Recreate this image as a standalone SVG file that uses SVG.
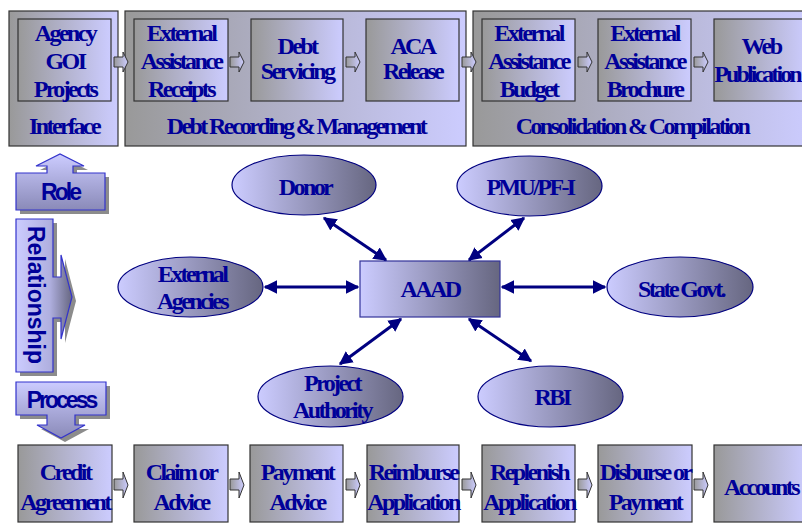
<svg xmlns="http://www.w3.org/2000/svg" width="802" height="525" viewBox="0 0 802 525">
<defs>
  <linearGradient id="gb" x1="0" y1="0" x2="1" y2="0">
    <stop offset="0" stop-color="#999999"/>
    <stop offset="1" stop-color="#ccccff"/>
  </linearGradient>
  <linearGradient id="ge" x1="0" y1="0" x2="1" y2="0">
    <stop offset="0" stop-color="#ccccff"/>
    <stop offset="1" stop-color="#666680"/>
  </linearGradient>
  <linearGradient id="gv" x1="0" y1="0" x2="0" y2="1">
    <stop offset="0" stop-color="#ccccff"/>
    <stop offset="1" stop-color="#8a8ab8"/>
  </linearGradient>
  <linearGradient id="gr" x1="0" y1="0" x2="1" y2="0">
    <stop offset="0" stop-color="#ccccff"/>
    <stop offset="0.6" stop-color="#b0b0e0"/>
    <stop offset="1" stop-color="#666680"/>
  </linearGradient>
  <marker id="ah" viewBox="0 0 10 10" refX="9" refY="5" markerWidth="4.5" markerHeight="5" orient="auto-start-reverse" markerUnits="strokeWidth">
    <path d="M0,0 L10,5 L0,10 Z" fill="#000080"/>
  </marker>
</defs>
<style>
  .box { fill: url(#gb); stroke: #333333; stroke-width: 1.2; }
  .ell { fill: url(#ge); stroke: #000080; stroke-width: 1.2; }
  .sarr { fill: url(#gb); stroke: #333333; stroke-width: 1; }
  .call { fill: url(#gv); stroke: #3333cc; stroke-width: 1.2; }
  .callr { fill: url(#gr); stroke: #3333cc; stroke-width: 1.2; }
  .shadow { fill: #8c8c8c; }
  .t { font-family: "Liberation Serif", "Times New Roman", serif; font-weight: bold; font-size: 24px; fill: #000099; text-anchor: middle; letter-spacing: -2.6px; }
  .s { font-family: "Liberation Sans", Arial, sans-serif; font-weight: bold; font-size: 23px; fill: #000099; text-anchor: middle; letter-spacing: -3px; }
  .con { stroke: #000080; stroke-width: 3; fill: none; marker-start: url(#ah); marker-end: url(#ah); }
</style>

<!-- Top row: group frames -->
<g id="interface">
  <rect class="box" x="9" y="11" width="109" height="135"/>
  <text class="t" x="64" y="134">Interface</text>
</g>
<g id="debt-recording">
  <rect class="box" x="125" y="11" width="341" height="135"/>
  <text class="t" x="296" y="134">Debt Recording &amp; Management</text>
</g>
<g id="consolidation">
  <rect class="box" x="473" y="11" width="340" height="135"/>
  <text class="t" x="632" y="134">Consolidation &amp; Compilation</text>
</g>

<g id="agency-goi-projects">
  <rect class="box" x="18" y="19" width="93" height="82"/>
  <text class="t" x="65" y="41">Agency</text>
  <text class="t" x="65" y="69">GOI</text>
  <text class="t" x="65" y="97">Projects</text>
</g>
<g id="ea-receipts">
  <rect class="box" x="134" y="19" width="94" height="82"/>
  <text class="t" x="181" y="41">External</text>
  <text class="t" x="181" y="69">Assistance</text>
  <text class="t" x="181" y="97">Receipts</text>
</g>
<g id="debt-servicing">
  <rect class="box" x="251" y="19" width="92" height="82"/>
  <text class="t" x="297" y="54">Debt</text>
  <text class="t" x="297" y="79">Servicing</text>
</g>
<g id="aca-release">
  <rect class="box" x="366" y="19" width="93" height="82"/>
  <text class="t" x="412.5" y="54">ACA</text>
  <text class="t" x="412.5" y="79">Release</text>
</g>
<g id="ea-budget">
  <rect class="box" x="482" y="19" width="93" height="82"/>
  <text class="t" x="528.5" y="41">External</text>
  <text class="t" x="528.5" y="69">Assistance</text>
  <text class="t" x="528.5" y="97">Budget</text>
</g>
<g id="ea-brochure">
  <rect class="box" x="598" y="19" width="93" height="82"/>
  <text class="t" x="644.5" y="41">External</text>
  <text class="t" x="644.5" y="69">Assistance</text>
  <text class="t" x="644.5" y="97">Brochure</text>
</g>
<g id="web-publication">
  <rect class="box" x="714" y="19" width="93" height="82"/>
  <text class="t" x="761" y="54">Web</text>
  <text class="t" x="757" y="82" style="letter-spacing:-2.9px">Publication</text>
</g>

<!-- Bottom row -->
<g id="credit-agreement">
  <rect class="box" x="18" y="445" width="94" height="77"/>
  <text class="t" x="65" y="480">Credit</text>
  <text class="t" x="65" y="510">Agreement</text>
</g>
<g id="claim-advice">
  <rect class="box" x="134" y="445" width="94" height="77"/>
  <text class="t" x="181" y="480">Claim or</text>
  <text class="t" x="181" y="510">Advice</text>
</g>
<g id="payment-advice">
  <rect class="box" x="250" y="445" width="93" height="77"/>
  <text class="t" x="297" y="480">Payment</text>
  <text class="t" x="297" y="510">Advice</text>
</g>
<g id="reimburse-application">
  <rect class="box" x="367" y="445" width="92" height="77"/>
  <text class="t" x="413" y="480">Reimburse</text>
  <text class="t" x="413" y="510">Application</text>
</g>
<g id="replenish-application">
  <rect class="box" x="482" y="445" width="93" height="77"/>
  <text class="t" x="529" y="480">Replenish</text>
  <text class="t" x="529" y="510">Application</text>
</g>
<g id="disburse-payment">
  <rect class="box" x="598" y="445" width="94" height="77"/>
  <text class="t" x="645" y="480">Disburse or</text>
  <text class="t" x="645" y="510">Payment</text>
</g>
<g id="accounts">
  <rect class="box" x="714" y="445" width="93" height="77"/>
  <text class="t" x="761" y="495">Accounts</text>
</g>

<!-- Left callouts -->
<g id="role">
  <path class="shadow" transform="translate(4,4)" d="M16,210 V173 H47 V166 H36 L60,154 L84,166 H73 V173 H105 V210 Z"/>
  <path class="call" d="M16,210 V173 H47 V166 H36 L60,154 L84,166 H73 V173 H105 V210 Z"/>
  <text class="s" x="60" y="200">Role</text>
</g>
<g id="relationship">
  <path class="shadow" transform="translate(4,4)" d="M16,219 H53 V277 H61 V255 L72,297 L61,339 V318 H53 V372 H16 Z"/>
  <path class="callr" d="M16,219 H53 V277 H61 V255 L72,297 L61,339 V318 H53 V372 H16 Z"/>
  <text class="s" transform="translate(28,295) rotate(90)" x="0" y="0" style="letter-spacing:0px">Relationship</text>
</g>
<g id="process">
  <path class="shadow" transform="translate(4,4)" d="M16,382 H106 V415 H75 V425 H85 L61,438 L37,425 H47 V415 H16 Z"/>
  <path class="call" d="M16,382 H106 V415 H75 V425 H85 L61,438 L37,425 H47 V415 H16 Z"/>
  <text class="s" x="61" y="408">Process</text>
</g>

<!-- Center graph nodes -->
<g id="aaad">
  <rect x="360" y="261" width="140" height="56" fill="url(#ge)" stroke="#333399" stroke-width="1.2"/>
  <text class="t" x="430" y="297">AAAD</text>
</g>
<g id="donor">
  <ellipse class="ell" cx="304" cy="185" rx="72" ry="30"/>
  <text class="t" x="305" y="195">Donor</text>
</g>
<g id="pmu">
  <ellipse class="ell" cx="529.5" cy="186" rx="72.5" ry="30"/>
  <text class="t" x="530" y="195">PMU/PF-I</text>
</g>
<g id="external-agencies">
  <ellipse class="ell" cx="190.5" cy="287" rx="72.5" ry="30"/>
  <text class="t" x="192" y="282">External</text>
  <text class="t" x="192" y="309">Agencies</text>
</g>
<g id="state-govt">
  <ellipse class="ell" cx="680" cy="287" rx="73" ry="30"/>
  <text class="t" x="681" y="297">State Govt.</text>
</g>
<g id="project-authority">
  <ellipse class="ell" cx="330.5" cy="396.5" rx="72.5" ry="30.5"/>
  <text class="t" x="332" y="391">Project</text>
  <text class="t" x="332" y="418">Authority</text>
</g>
<g id="rbi">
  <ellipse class="ell" cx="550.5" cy="396.5" rx="72.5" ry="30.5"/>
  <text class="t" x="552" y="405">RBI</text>
</g>

<!-- Connectors -->
<g id="connectors">
  <line class="con" x1="265" y1="287" x2="358" y2="287"/>
  <line class="con" x1="502" y1="287" x2="605" y2="287"/>
  <line class="con" x1="324" y1="218" x2="386" y2="260"/>
  <line class="con" x1="524" y1="218" x2="469" y2="260"/>
  <line class="con" x1="340" y1="364" x2="401" y2="319"/>
  <line class="con" x1="469" y1="319" x2="531" y2="361"/>
  <path class="sarr" d="M114,57 H123 V52 L128,62 L123,72 V67 H114 Z"/>
  <path class="sarr" d="M230,57 H239 V52 L244,62 L239,72 V67 H230 Z"/>
  <path class="sarr" d="M346,57 H355 V52 L360,62 L355,72 V67 H346 Z"/>
  <path class="sarr" d="M462,57 H471 V52 L476,62 L471,72 V67 H462 Z"/>
  <path class="sarr" d="M578,57 H587 V52 L592,62 L587,72 V67 H578 Z"/>
  <path class="sarr" d="M694,57 H703 V52 L708,62 L703,72 V67 H694 Z"/>
  <path class="sarr" d="M114,479 H123 V472 L128,485 L123,498 V490 H114 Z"/>
  <path class="sarr" d="M230,479 H239 V472 L244,485 L239,498 V490 H230 Z"/>
  <path class="sarr" d="M346,479 H355 V472 L360,485 L355,498 V490 H346 Z"/>
  <path class="sarr" d="M462,479 H471 V472 L476,485 L471,498 V490 H462 Z"/>
  <path class="sarr" d="M578,479 H587 V472 L592,485 L587,498 V490 H578 Z"/>
  <path class="sarr" d="M694,479 H703 V472 L708,485 L703,498 V490 H694 Z"/>
</g>
</svg>
